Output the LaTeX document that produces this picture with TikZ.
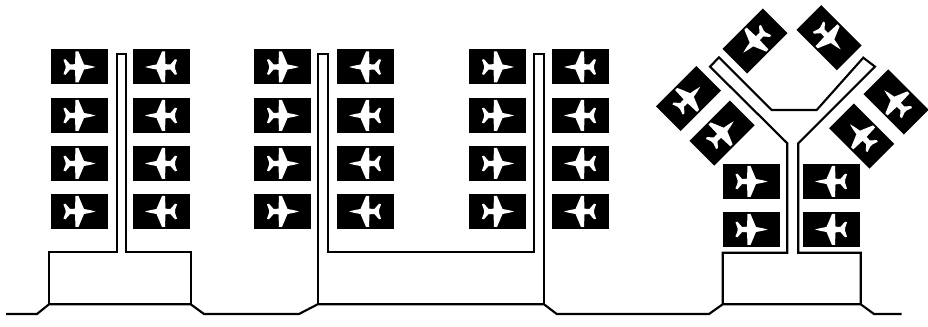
\documentclass[tikz,border=0pt]{standalone}
\usepackage{amsmath,amssymb}
\usepackage{xcolor}
\tikzset{
  pavement/.style={draw=black, line width=1.6pt, line join=miter},
  jet/.pic={
    \fill[black] (-28.5,-17.5) rectangle (28.5,17.5);
    \fill[white] (16.5,0) -- (11,1.4) -- (5,2.5) -- (-0.5,15.5) -- (-3.5,15.5) -- (-4,2.8) -- (-9,2.6) -- (-13.5,7.8) -- (-15.5,7.2) -- (-13.5,1.3) -- (-13.5,-1.3)
      -- (-15.5,-7.2) -- (-13.5,-7.8) -- (-9,-2.6) -- (-4,-2.8) -- (-3.5,-15.5) -- (-0.5,-15.5) -- (5,-2.5) -- (11,-1.4) -- cycle;
  }
}
\begin{document}
\begin{tikzpicture}[x=0.75pt,y=0.75pt]
\useasboundingbox (0,0) rectangle (928,327);
% stands along the straight piers
\foreach \yrow in {260,211.5,163.5,115.5} {
  \foreach \xcol/\ang in {79/0,161.5/180,282.5/0,365.5/180,497.5/0,580.5/180} {
    \pic[rotate=\ang] at (\xcol,\yrow) {jet};
  }
}
% stands on the stem of the Y pier
\foreach \yrow in {145.5,97.5} {
  \foreach \xcol/\ang in {751/0,831.5/180} {
    \pic[rotate=\ang] at (\xcol,\yrow) {jet};
  }
}
% stands on the arms of the Y pier
\pic[rotate=225] at (755,286) {jet}; \pic[rotate=-45] at (829,289.3) {jet};
\pic[rotate=45] at (688.5,228.5) {jet}; \pic[rotate=45] at (722,194) {jet};
\pic[rotate=135] at (896,225) {jet}; \pic[rotate=135] at (861.7,191) {jet};
\coordinate (A) at (49,22.7); \coordinate (B) at (190.7,22.7);
\coordinate (C) at (317.7,22.7); \coordinate (D) at (544,22.7);
\coordinate (E) at (722.7,22.7); \coordinate (F) at (860.7,22.7);
% road
\draw[pavement] (6,13) -- (37,13) -- (A) -- (B) -- (204,13) -- (299,13) -- (C) -- (D) -- (556.7,13) -- (709,13) -- (E) -- (F) -- (874,13) -- (901.7,13);
% piers
\draw[pavement] (A) -- (49,74.7) -- (116.7,74.7) -- (116.7,272.7) -- (125.7,272.7) -- (125.7,74.7) -- (190.7,74.7) -- (B);
\draw[pavement] (C) -- (317.7,272.7) -- (328,272.7) -- (328,74.7) -- (534.3,74.7) -- (534.3,272.7) -- (544,272.7) -- (D);
\draw[pavement] (E) -- (722.7,74.3) -- (787.3,74.3) -- (787.3,183.7) -- (710,260.3) -- (719,269.7) -- (771.7,217) -- (816.7,217)
  -- (863.3,269.3) -- (875,260.3) -- (798.3,183.7) -- (798.3,74.3) -- (860.7,74.3) -- (F);
\end{tikzpicture}
\end{document}
